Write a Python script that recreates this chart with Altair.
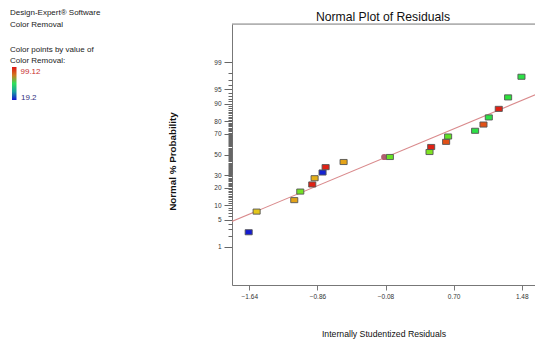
import altair as alt
import pandas as pd
from statistics import NormalDist

# ---- data ----
resid = [-1.647, -1.556, -1.125, -1.056, -0.919, -0.892, -0.801, -0.766, -0.560, -0.030,
         0.424, 0.443, 0.614, 0.637, 0.946, 1.042, 1.103, 1.217, 1.324, 1.477]
prob = [2.5, 7.5, 12.5, 17.5, 22.5, 27.5, 32.5, 37.5, 42.5, 47.5,
        52.5, 57.5, 62.5, 67.5, 72.5, 77.5, 82.5, 87.5, 92.5, 97.5]
removal = [20.0, 84.0, 87.0, 71.0, 98.0, 86.0, 21.0, 98.0, 87.0, 70.0,
           72.0, 98.0, 94.0, 69.0, 61.0, 94.0, 61.0, 98.0, 62.0, 61.0]

circle_resid = [-0.095]
circle_prob = [47.5]

line_resid = [-1.84, 1.64]
line_prob = [4.55, 93.45]

x_ticks = [-1.64, -0.86, -0.08, 0.70, 1.48]
y_major = [1, 5, 10, 20, 30, 50, 70, 80, 90, 95, 99]
y_minor = [2, 3, 4, 6, 7, 8, 9] + list(range(11, 20)) + list(range(21, 30)) + \
          list(range(31, 50)) + list(range(51, 70)) + list(range(71, 80)) + \
          list(range(81, 90)) + [91, 92, 93, 94, 96, 97, 98]

color_domain = [19.2, 59.16, 99.12]
color_range = ["#1414d2", "#2ee05a", "#e01414"]

FONT = "Liberation Sans"

W, H = 303, 261
XDOM = [-1.838, 1.632]
YDOM = [-3.29, 3.29]

nd = NormalDist()
major_z = [nd.inv_cdf(p / 100) for p in y_major]
minor_z = [nd.inv_cdf(p / 100) for p in y_minor]

# label expression: pick the label of the nearest major tick
parts = []
for i, p in enumerate(y_major[:-1]):
    mid = (major_z[i] + major_z[i + 1]) / 2
    parts.append(f"datum.value < {mid:.4f} ? '{p}' : ")
label_expr = "".join(parts) + f"'{y_major[-1]}'"

pts = pd.DataFrame({"resid": resid, "prob": prob, "removal": removal})
circ = pd.DataFrame({"resid": circle_resid, "prob": circle_prob})
ln = pd.DataFrame({"resid": line_resid, "prob": line_prob})

xscale = alt.Scale(domain=XDOM, nice=False, zero=False)
yscale = alt.Scale(domain=YDOM, nice=False, zero=False)

x_axis = alt.Axis(values=x_ticks, format=".2f", title="Internally Studentized Residuals",
                  grid=False, tickSize=5, labelFontSize=6.5, labelFont=FONT,
                  labelPadding=3, domainColor="#777", tickColor="#777", labelColor="#333",
                  titleFont=FONT, titleFontSize=8.7, titleFontWeight="normal",
                  titleColor="#111", titleY=48, titleBaseline="middle")

y_axis_major = alt.Axis(values=major_z, title="Normal % Probability", grid=False,
                        labelExpr=label_expr, tickSize=8, orient="left",
                        labelFontSize=6.5, labelFont=FONT, labelPadding=3,
                        domainColor="#777", tickColor="#666", labelColor="#333",
                        titleFont=FONT, titleFontSize=9.8, titleFontWeight="bold",
                        titleColor="#111", titleX=-60, titleY=137, titleAngle=270,
                        titleAlign="center", titleBaseline="middle", labelOverlap=False)

y_axis_minor = alt.Axis(values=minor_z, title=None, grid=False, labels=False,
                        tickSize=4, orient="left", domain=False, tickColor="#666")

calc = "quantileNormal(datum.prob / 100)"

line = alt.Chart(ln).transform_calculate(z=calc).mark_line(
    color="#d98a8c", strokeWidth=1.1, clip=True
).encode(
    x=alt.X("resid:Q", scale=xscale, axis=x_axis),
    y=alt.Y("z:Q", scale=yscale, axis=y_axis_major),
)

circle = alt.Chart(circ).transform_calculate(z=calc).mark_point(
    shape="circle", filled=True, size=38, color="#b06070", opacity=1
).encode(
    x=alt.X("resid:Q", scale=xscale, axis=x_axis),
    y=alt.Y("z:Q", scale=yscale, axis=y_axis_minor),
)

rect_path = "M-1,-0.72H1V0.72H-1Z"
points = alt.Chart(pts).transform_calculate(z=calc).mark_point(
    shape=rect_path, filled=True, size=50, stroke="#555", strokeWidth=0.9, opacity=1
).encode(
    x=alt.X("resid:Q", scale=xscale, axis=x_axis),
    y=alt.Y("z:Q", scale=yscale, axis=None),
    fill=alt.Fill("removal:Q", legend=None,
                  scale=alt.Scale(domain=color_domain, range=color_range, interpolate="hsl")),
)

one = alt.Data(values=[{}])

top_border = alt.Chart(one).mark_rule(color="#888", strokeWidth=1).encode(
    x=alt.value(0), x2=alt.value(W), y=alt.value(0)
)


def txt(s, x, y, size=8.0, color="#222", font=FONT, align="left", baseline="middle"):
    return alt.Chart(one).mark_text(
        text=s, font=font, fontSize=size, color=color, align=align, baseline=baseline
    ).encode(x=alt.value(x), y=alt.value(y))


ox, oy = 232, 24
texts = [
    txt("Normal Plot of Residuals", W / 2 - 0.5, 20.5 - oy, size=12.2, color="#111",
        align="center", baseline="alphabetic"),
    txt("Design-Expert® Software", 10 - ox, 12.5 - oy),
    txt("Color Removal", 10 - ox, 24.5 - oy),
    txt("Color points by value of", 10 - ox, 49.5 - oy),
    txt("Color Removal:", 10 - ox, 61 - oy),
    txt(str(color_domain[-1]), 20.5 - ox, 72 - oy, color="#c83030"),
    txt(str(color_domain[0]), 21 - ox, 98 - oy, color="#303080"),
]

grad = alt.Chart(one).mark_rect(
    color=alt.Gradient(
        gradient="linear",
        stops=[
            alt.GradientStop(color=color_range[2], offset=0),
            alt.GradientStop(color="#d07a20", offset=0.25),
            alt.GradientStop(color=color_range[1], offset=0.5),
            alt.GradientStop(color="#1aa0a0", offset=0.75),
            alt.GradientStop(color=color_range[0], offset=1),
        ],
        x1=0, x2=0, y1=0, y2=1,
    )
).encode(x=alt.value(12 - ox), x2=alt.value(16.5 - ox), y=alt.value(67 - oy), y2=alt.value(100 - oy))

chart = alt.layer(line, circle, points, top_border, grad, *texts).resolve_scale(
    y="shared", x="shared"
).resolve_axis(y="independent").properties(
    width=W,
    height=H,
    autosize=alt.AutoSizeParams(type="none"),
    padding={"left": ox, "top": oy, "right": 0, "bottom": 344 - oy - H},
).configure_view(stroke=None).configure(background="white")

chart.save("out.html", embed_options={"renderer": "svg", "actions": False})
